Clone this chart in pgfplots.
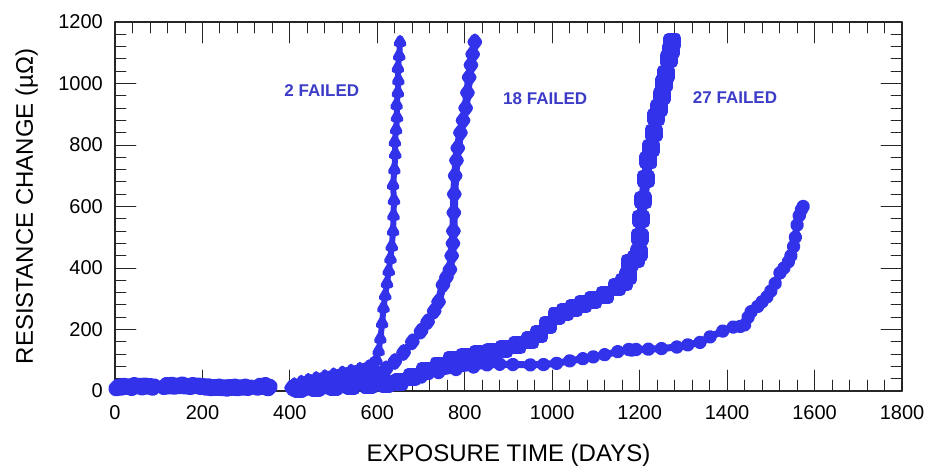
\documentclass[border=0pt]{standalone}
\usepackage{pgfplots}
\pgfplotsset{compat=1.18}
\usepackage{fontspec}
\setmainfont{Liberation Sans}
\definecolor{mblue}{RGB}{50,50,235}
\definecolor{tblue}{RGB}{60,60,200}
\begin{document}
\begin{tikzpicture}
\begin{axis}[
 name=ax,
 at={(0,0)}, anchor=south west,
 scale only axis, width=787bp, height=369bp,
 xmin=0, xmax=1800, ymin=0, ymax=1200,
 xtick={0,200,...,1800}, ytick={0,200,...,1200},
 minor x tick num=4, minor y tick num=4,
 tick align=inside,
 major tick length=21bp, minor tick length=11bp,
 every tick/.style={black!85, line width=0.9bp},
 axis line style={black!85, line width=1.3bp},
 /pgf/number format/assume math mode=true,
 /pgf/number format/1000 sep={},
 xticklabel style={font=\fontsize{20bp}{22bp}\selectfont, inner sep=0pt, anchor=north, yshift=-14bp},
 yticklabel style={font=\fontsize{20bp}{22bp}\selectfont, inner sep=0pt, anchor=east, xshift=-12bp},
 xlabel={EXPOSURE TIME (DAYS)},
 ylabel={RESISTANCE CHANGE (µΩ)},
 xlabel style={font=\fontsize{24bp}{26bp}\selectfont, at={(axis description cs:0.5,-0.192)}, anchor=base, inner sep=0pt},
 ylabel style={font=\fontsize{24bp}{26bp}\selectfont, at={(axis description cs:-0.1042,0.5)}, anchor=base, rotate=0, inner sep=0pt},
 clip=false,
 unbounded coords=jump,
 line join=round, line cap=round,
]
% early data (all specimens)
\addplot[mblue, line width=9bp, mark=*, mark size=3.5bp, mark options={solid}] coordinates {
(3,8)(8,15)(14,10)(20,18)(26,12)(32,16)(38,9)(44,20)(50,14)(56,18)(62,11)(68,19)(74,13)(80,17)(86,10)(90,15)
(100,nan)
(112,12)(118,20)(124,14)(130,21)(136,13)(142,19)(148,15)(154,22)(160,14)(166,18)(172,12)(178,20)(184,15)(190,19)(196,12)(202,17)(208,10)(214,16)(220,8)(226,14)(232,9)(238,15)(244,8)(250,13)(256,7)(262,14)(268,9)(274,15)(280,8)(286,13)(292,10)(298,15)(304,9)(310,12)
(318,nan)
(326,10)(332,18)(338,12)(344,20)(350,8)(354,14)
};
% series D (circles)
\addplot[mblue, line width=7bp, mark=*, mark size=3.3bp, mark options={solid}] coordinates {
(420,5)(460,8)(500,10)(540,12)(580,14)(620,20)(660,30)(700,45)(740,60)(780,70)(820,78)(851,85)(880,87)(910,86)(950,85)(980,86)(1010,90)(1040,98)(1070,105)(1094,111)(1120,118)(1150,128)(1175,135)(1182,133)
(1187,nan)
(1192,135)(1220,136)(1250,138)(1285,143)(1310,150)(1338,158)(1361,176)(1390,195)(1414,208)(1430,210)(1440,215)(1448,240)(1455,258)(1470,275)(1480,290)(1491,306)(1500,325)(1510,350)(1521,384)(1530,400)(1540,420)(1546,440)(1552,470)(1556,500)(1560,540)(1565,570)(1570,590)(1574,600)
};
% series C (squares)
\addplot[mblue, line width=10bp, mark=square*, mark size=4bp, mark options={solid}] coordinates {
(420,8)(460,10)(500,14)(540,16)(580,18)(620,22)(650,28)(680,45)(710,65)(740,82)(770,100)(800,112)(830,120)(860,128)(890,137)(920,148)(950,165)(970,185)(990,215)(1010,245)(1030,258)(1050,270)(1070,282)(1094,296)(1120,312)(1148,338)(1165,355)(1174,375)(1177,416)(1192,430)(1198,450)(1200,500)(1203,560)(1208,620)(1214,690)(1220,750)(1226,790)(1232,840)(1238,890)(1244,920)(1250,960)(1256,1000)(1260,1030)(1266,1080)(1272,1110)(1275,1135)
};
% series B (diamonds)
\addplot[mblue, line width=8bp, mark=diamond*, mark size=4.5bp, mark options={solid}] coordinates {
(404,10)(420,14)(440,12)(460,18)(480,16)(500,22)(520,20)(540,28)(560,32)(580,42)(600,56)(620,72)(640,96)(660,125)(680,160)(700,195)(715,225)(730,260)(740,290)(750,345)(758,370)(766,395)(770,440)(773,480)(774,520)(775,580)(776,640)(778,700)(781,750)(784,790)(790,840)(796,880)(802,920)(806,970)(810,1020)(814,1060)(818,1095)(823,1135)
};
% series A (triangles)
\addplot[mblue, line width=6bp, mark=triangle*, mark size=4bp, mark options={solid}] coordinates {
(404,14)(410,22)(418,18)(426,30)(434,26)(442,36)(450,32)(460,42)(470,38)(480,48)(490,44)(500,54)(510,50)(520,60)(530,56)(540,66)(550,62)(560,72)(570,70)(580,80)(590,90)(598,100)(603,130)(607,170)(611,220)(614,270)(618,310)(622,350)(626,390)(630,430)(633,470)(636,520)(637,570)(638,620)(636,670)(639,720)(641,770)(640,810)(643,850)(645,890)(644,930)(647,970)(648,1010)(647,1050)(650,1090)(652,1135)
};
\node[font=\bfseries\fontsize{17bp}{19bp}\selectfont, text=tblue] at (axis cs:473,976) {2 FAILED};
\node[font=\bfseries\fontsize{17bp}{19bp}\selectfont, text=tblue] at (axis cs:984,950) {18 FAILED};
\node[font=\bfseries\fontsize{17bp}{19bp}\selectfont, text=tblue] at (axis cs:1418,953) {27 FAILED};
\end{axis}
\pgfresetboundingbox
\path (-115bp,-77bp) rectangle (812bp,391bp);
\end{tikzpicture}
\end{document}
